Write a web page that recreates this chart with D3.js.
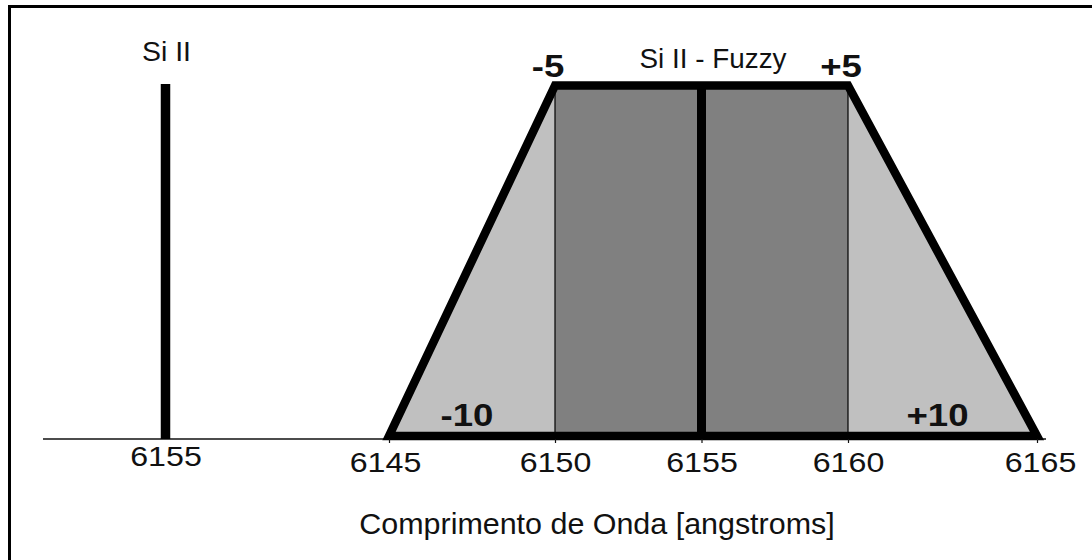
<!DOCTYPE html>
<html>
<head>
<meta charset="utf-8">
<script src="https://cdn.jsdelivr.net/npm/d3@7"></script>
<style>
  html, body { margin: 0; padding: 0; background: #ffffff; }
  svg { display: block; }
  text { font-family: "Liberation Sans", Arial, sans-serif; fill: #111; }
</style>
</head>
<body>
<svg id="chart" width="1092" height="560"></svg>
<script>
// Crisp spectral line (left panel)
const crispLabel = "Si II";
const crispWavelength = 6155;
const crispMembership = 1;

// Fuzzy trapezoid for the same line (right panel)
const fuzzyLabel = "Si II - Fuzzy";
const fuzzyCenter = 6155;
const fuzzyWavelengths = [6145, 6150, 6160, 6165];
const fuzzyMembership = [0, 1, 1, 0];

// Offsets from the centre wavelength, written on the trapezoid
const offsetValues = [-10, -5, 5, 10];
const offsetTexts = ["-10", "-5", "+5", "+10"];

// Axis ticks and title
const crispTicks = [6155];
const fuzzyTicks = [6145, 6150, 6155, 6160, 6165];
const axisTitle = "Comprimento de Onda [angstroms]";

const svg = d3.select("#chart");

// Slightly wide lettering used throughout the figure
const stretch = 1.13;
const boldStretch = 1.18;
function place(sel, x, y, sx) {
  return sel.attr("x", 0).attr("y", 0)
    .attr("transform", `translate(${x},${y}) scale(${sx},1)`);
}

// Frame lines (top and left)
svg.append("line").attr("x1", 8).attr("x2", 1092).attr("y1", 6.5).attr("y2", 6.5)
  .attr("stroke", "#000").attr("stroke-width", 3);
svg.append("line").attr("x1", 9.5).attr("x2", 9.5).attr("y1", 5).attr("y2", 560)
  .attr("stroke", "#000").attr("stroke-width", 3);

// Scales
const xCrisp = d3.scalePoint().domain(crispTicks).range([40, 291]).padding(0.5);
const xFuzzy = d3.scaleLinear()
  .domain(fuzzyWavelengths)
  .range([389, 555, 848, 1037]);
const y = d3.scaleLinear().domain([0, 1]).range([436, 85.5]);
const baseY = 439;

// Shared baseline
svg.append("line").attr("x1", 43).attr("x2", 1046).attr("y1", baseY).attr("y2", baseY)
  .attr("stroke", "#111").attr("stroke-width", 1.6);

// Crisp line
svg.append("line")
  .attr("x1", xCrisp(crispWavelength)).attr("x2", xCrisp(crispWavelength))
  .attr("y1", baseY).attr("y2", y(crispMembership) - 1.5)
  .attr("stroke", "#000").attr("stroke-width", 9.5);
svg.append("text")
  .attr("x", xCrisp(crispWavelength) + 1).attr("y", 61)
  .attr("text-anchor", "middle").attr("font-size", 28)
  .attr("textLength", 49).attr("lengthAdjust", "spacingAndGlyphs")
  .text(crispLabel);

// Fuzzy trapezoid
const pts = fuzzyWavelengths.map((w, i) => [xFuzzy(w), y(fuzzyMembership[i])]);
const lineGen = d3.line();
const core = fuzzyWavelengths.filter((w, i) => fuzzyMembership[i] === 1);

svg.append("path").attr("d", lineGen(pts) + "Z").attr("fill", "#c0c0c0");
svg.append("rect")
  .attr("x", xFuzzy(core[0])).attr("width", xFuzzy(core[1]) - xFuzzy(core[0]))
  .attr("y", y(1)).attr("height", y(0) - y(1))
  .attr("fill", "#808080");
core.forEach(w => {
  svg.append("line").attr("x1", xFuzzy(w)).attr("x2", xFuzzy(w))
    .attr("y1", y(1)).attr("y2", y(0)).attr("stroke", "#000").attr("stroke-width", 1.2);
});
svg.append("line")
  .attr("x1", xFuzzy(fuzzyCenter)).attr("x2", xFuzzy(fuzzyCenter))
  .attr("y1", y(0)).attr("y2", y(1))
  .attr("stroke", "#000").attr("stroke-width", 9);
svg.append("path").attr("d", lineGen(pts) + "Z")
  .attr("fill", "none").attr("stroke", "#000").attr("stroke-width", 8.5)
  .attr("stroke-linejoin", "miter");

svg.append("text")
  .attr("x", 713).attr("y", 68)
  .attr("text-anchor", "middle").attr("font-size", 27)
  .attr("textLength", 147).attr("lengthAdjust", "spacingAndGlyphs")
  .text(fuzzyLabel);

// Offset labels
offsetValues.forEach((off, i) => {
  const w = fuzzyCenter + off;
  const inner = Math.abs(off) === 10;
  const x = inner
    ? (xFuzzy(w) + xFuzzy(fuzzyCenter + off / 2)) / 2 - 5
    : xFuzzy(w) - 7;
  place(svg.append("text"), x, inner ? 426 : 77, boldStretch)
    .attr("text-anchor", "middle").attr("font-size", 31).attr("font-weight", "bold")
    .text(offsetTexts[i]);
});

// Axes
const gCrisp = svg.append("g").attr("transform", `translate(0,${baseY})`)
  .call(d3.axisBottom(xCrisp).tickSize(0).tickFormat(d => d));
gCrisp.select(".domain").remove();
gCrisp.selectAll("text").attr("dy", 0)
  .attr("font-size", 28.5).attr("font-family", null).style("fill", "#111")
  .each(function() { place(d3.select(this), 0, 27, stretch); });

const gFuzzy = svg.append("g").attr("transform", `translate(0,${baseY})`)
  .call(d3.axisBottom(xFuzzy).tickValues(fuzzyTicks).tickSizeInner(4).tickSizeOuter(0)
    .tickFormat(d3.format("d")));
gFuzzy.select(".domain").remove();
gFuzzy.selectAll(".tick line").attr("stroke", "#111").attr("stroke-width", 1.2);
gFuzzy.selectAll("text").attr("dy", 0)
  .attr("font-size", 28.5).attr("font-family", null).style("fill", "#111")
  .each(function(d) {
    const dx = d === 6145 ? -4 : d === 6165 ? 3 : 0;
    place(d3.select(this), dx, 33, stretch);
  });

place(svg.append("text"), 597, 534, 1.05)
  .attr("text-anchor", "middle").attr("font-size", 29)
  .text(axisTitle);
</script>
</body>
</html>
